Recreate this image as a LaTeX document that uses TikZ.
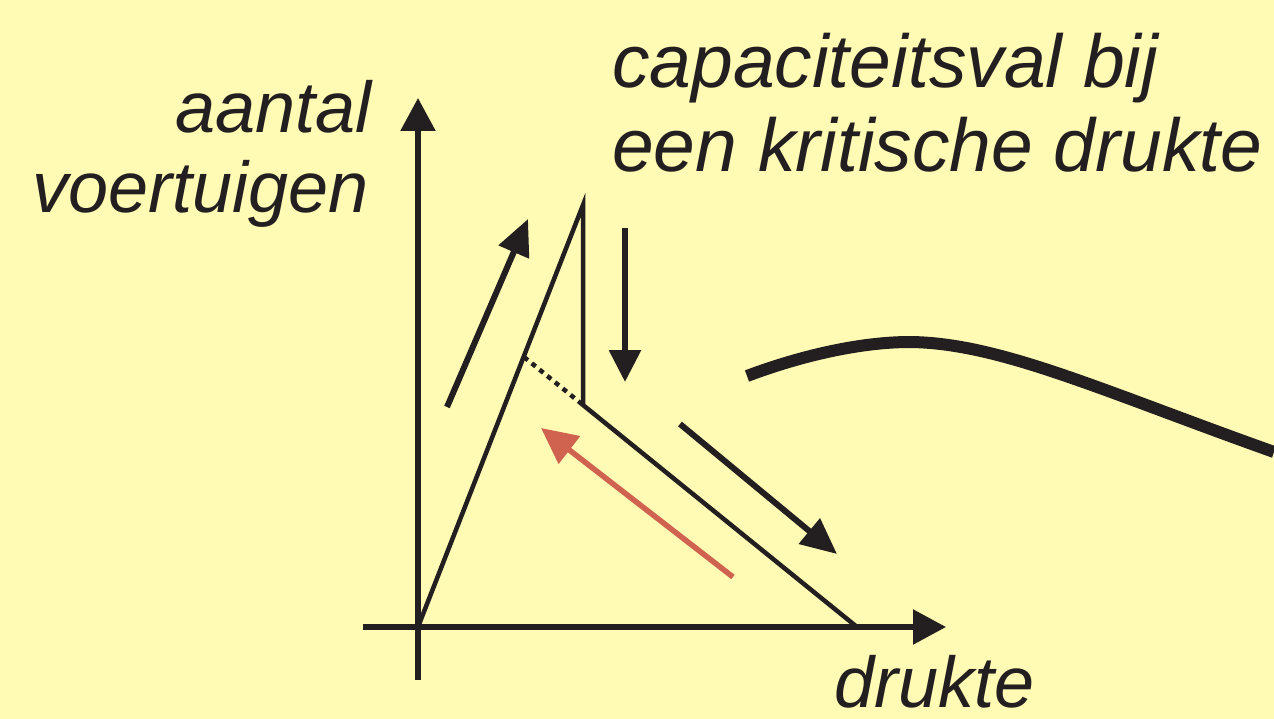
\documentclass[tikz,border=0pt]{standalone}
\usepackage{fontspec}
\setmainfont{Liberation Sans}
\usetikzlibrary{arrows.meta}
\definecolor{paper}{HTML}{FFFBB4}
\definecolor{ink}{HTML}{231F20}
\definecolor{backred}{HTML}{D06350}

\begin{document}
\begin{tikzpicture}[x=1pt, y=-1pt, ink,
    axis/.style={line width=5.5, -{Triangle[length=33,width=34]}},
    flow/.style={line width=6, -{Triangle[length=36,width=32]}},
    words/.style={inner sep=0, font=\fontsize{75}{84}\selectfont\itshape},
    axwords/.style={words, font=\fontsize{72}{80}\selectfont\itshape}]
    % Paper and frame.
    \fill[paper] (0,0) rectangle (1274,719);
    \useasboundingbox (0,0) rectangle (1274,719);

    % Points of the flow curve.
    \coordinate (O) at (418,627);
    \coordinate (peak) at (583,205);
    \coordinate (drop) at (583,405);
    \coordinate (jam) at (857,627);
    \coordinate (knee) at (524,357);

    \draw[axis] (418,680) coordinate (ybot) -- (418,98) coordinate (ytop);
    \draw[axis] (363,627) coordinate (xbot) -- (946,627) coordinate (xtop);

    \draw[line width=4.5, line join=miter] (O) -- (peak) -- (drop) -- (jam);
    \draw[line width=4.5, dash pattern=on 5pt off 5pt] (knee) -- (drop);

    % Direction arrows.
    \coordinate (upA) at (447,407);
    \coordinate (upB) at (528,219);
    \coordinate (dnA) at (625,228);
    \coordinate (dnB) at (625,382);
    \coordinate (rtA) at (680,424);
    \coordinate (rtB) at (837,554);
    \coordinate (bkA) at (733,577);
    \coordinate (bkB) at (541,428);
    \draw[flow] (upA) -- (upB);
    \draw[flow, -{Triangle[length=32,width=31]}] (dnA) -- (dnB);
    \draw[flow] (rtA) -- (rtB);
    \draw[flow, backred, line width=5.5, -{Triangle[length=36,width=34]}] (bkA) -- (bkB);

    % Thick curve on the right.
    \coordinate (cvA) at (747,376);
    \coordinate (cvTop) at (910,342);
    \coordinate (cvB) at (1274,452);
    \draw[line width=12] (cvA) .. controls (800,356) and (860,342) .. (cvTop)
        .. controls (1000,343) and (1100,390) .. (cvB);

    \node[words, anchor=base west] (cap1) at (612,88) {capaciteitsval bij};
    \node[words, anchor=base west] (cap2) at (612,172) {een kritische drukte};
    \node[axwords, anchor=base east] (ylab1) at (372,133) {aantal};
    \node[axwords, anchor=base east] (ylab2) at (369,213) {voertuigen};
    \node[axwords, anchor=base west] (xlab) at (834,707) {drukte};
\end{tikzpicture}
\end{document}
